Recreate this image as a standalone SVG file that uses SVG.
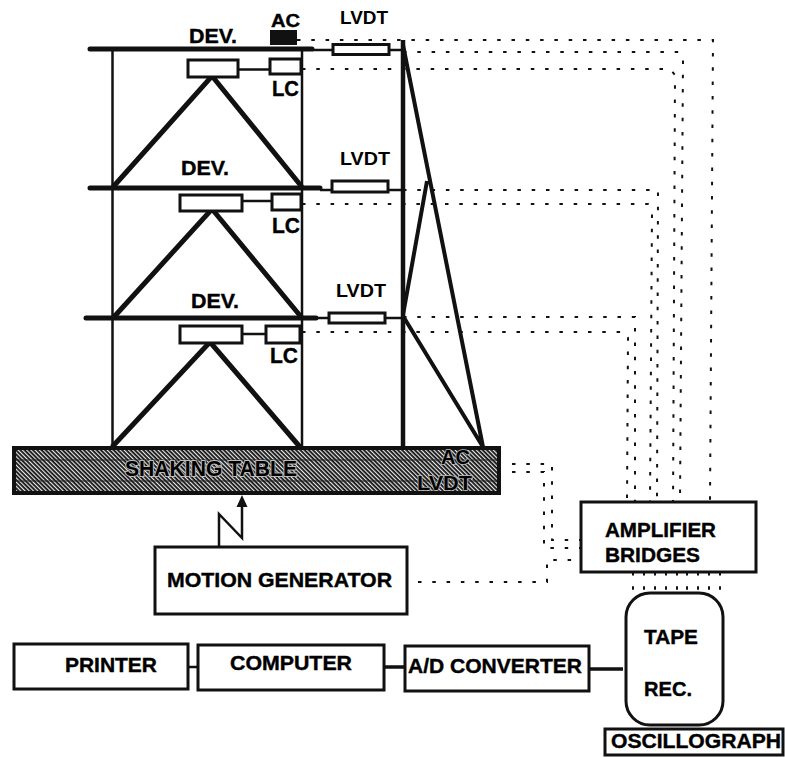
<svg xmlns="http://www.w3.org/2000/svg" width="785" height="758" viewBox="0 0 785 758">
<style>
text{font-family:"Liberation Sans",Arial,sans-serif;font-weight:bold;font-size:21px;fill:#000;stroke:#000;stroke-width:.4}
.box{fill:#fff;stroke:#111;stroke-width:3}
.thin{fill:none;stroke:#111;stroke-width:2.500}
.beam{fill:none;stroke:#111;stroke-width:5;stroke-linecap:round}
.brace{fill:none;stroke:#111;stroke-width:5}
.dot{fill:none;stroke:#111;stroke-width:2;stroke-dasharray:3.500 10.800}
.tbl{font-size:22px;stroke:#bbb;stroke-width:2;paint-order:stroke}
.tbl2{font-size:20px;stroke:#bbb;stroke-width:1.500;paint-order:stroke}
.lc{font-size:22px}
.lv{font-size:19px}
</style>
<defs>
<pattern id="hatch" width="3" height="3" patternUnits="userSpaceOnUse" patternTransform="rotate(45)">
<rect width="3" height="3" fill="#e8e8e8"/><rect width="3" height="1.800" fill="#111"/>
</pattern>
</defs>
<rect width="785" height="758" fill="#fff"/>
<g id="connectors">
<path class="dot" d="M297 40H713L710 502"/>
<path class="dot" d="M403 52H680L683 60L680 502"/>
<path class="dot" d="M302 69H670L675 75L673 510"/>
<path class="dot" d="M403 190H658L657 502"/>
<path class="dot" d="M302 204H648L652 212L650 502"/>
<path class="dot" d="M403 317H635L635 510"/>
<path class="dot" d="M302 332H625L628 338L627 502"/>
<path class="dot" d="M512 464H552V540H597"/>
<path class="dot" d="M512 472H544V548H590"/>
<path class="dot" d="M418 582H547V560H581"/>
<path class="dot" d="M633 572V592M644 572V592M655 572V592M666 572V592M677 572V592M687 572V592M698 572V592M709 572V592M720 572V592"/>
<path class="thin" d="M112.500 49V447M302 49V447"/>
<path class="beam" d="M90 49H312M90 188H320M86 318H316"/>
<path class="thin" d="M312 50H333M389 50H403M320 190H333M388 190H403M316 318H329M385 318H403"/>
<path class="thin" d="M238 69.500H270M242 201H272M242 334H267"/>
<path class="brace" d="M113 187L212 76L302 187M113 318L212 209L302 318M112 447L210 342L300 447"/>
<path fill="none" stroke="#111" stroke-width="4.500" d="M403 40V447"/>
<path fill="none" stroke="#111" stroke-width="4" d="M403 45L483 447M403 315L427 181M403 316L483 447"/>
<path fill="none" stroke="#111" stroke-width="2.500" d="M219 547V514L242 538V503"/>
<path fill="#111" d="M242 495L247.500 507H236.500Z"/>
<path class="thin" d="M188 667H198"/>
<path fill="none" stroke="#111" stroke-width="3.500" d="M384 667H405M589 669H623"/>
</g>
<g id="shaking-table">
<rect x="14" y="448" width="485" height="45" fill="url(#hatch)" stroke="#111" stroke-width="4"/>
<path fill="none" stroke="#222" stroke-width="1" d="M16 460H497M16 481H497"/>
<text class="tbl" x="125" y="476" textLength="172" lengthAdjust="spacingAndGlyphs">SHAKING TABLE</text>
<text class="tbl2" x="441" y="464" textLength="29" lengthAdjust="spacingAndGlyphs">AC</text>
<text class="tbl2" x="417" y="490" textLength="55" lengthAdjust="spacingAndGlyphs">LVDT</text>
</g>
<g id="dev-1"><rect class="box" x="188" y="60" width="50" height="17"/><text x="189" y="43" textLength="48" lengthAdjust="spacingAndGlyphs">DEV.</text></g>
<g id="ac-top"><rect x="270" y="30" width="27" height="15" fill="#111"/><text class="lv" x="271" y="27" textLength="29" lengthAdjust="spacingAndGlyphs">AC</text></g>
<g id="lc-1"><rect class="box" x="270" y="59" width="31" height="15"/><text class="lc" x="272" y="96" textLength="27" lengthAdjust="spacingAndGlyphs">LC</text></g>
<g id="lvdt-1"><rect class="box" x="333" y="44.500" width="56" height="10"/><text class="lv" x="340" y="24" textLength="48" lengthAdjust="spacingAndGlyphs" style="stroke-width:0">LVDT</text></g>
<g id="dev-2"><rect class="box" x="180" y="195" width="62" height="16"/><text x="181" y="175" textLength="48" lengthAdjust="spacingAndGlyphs">DEV.</text></g>
<g id="lc-2"><rect class="box" x="272" y="194" width="29" height="16"/><text class="lc" x="272" y="233" textLength="28" lengthAdjust="spacingAndGlyphs">LC</text></g>
<g id="lvdt-2"><rect class="box" x="332" y="181" width="56" height="11"/><text class="lv" x="340" y="165" textLength="50" lengthAdjust="spacingAndGlyphs" style="stroke-width:0">LVDT</text></g>
<g id="dev-3"><rect class="box" x="180" y="326" width="62" height="17"/><text x="191" y="308" textLength="48" lengthAdjust="spacingAndGlyphs">DEV.</text></g>
<g id="lc-3"><rect class="box" x="266" y="326" width="34" height="17"/><text class="lc" x="270" y="363" textLength="28" lengthAdjust="spacingAndGlyphs">LC</text></g>
<g id="lvdt-3"><rect class="box" x="329" y="313" width="56" height="10"/><text class="lv" x="336" y="297" textLength="50" lengthAdjust="spacingAndGlyphs" style="stroke-width:0">LVDT</text></g>
<g id="motion-generator"><rect class="box" x="155" y="547" width="252" height="67"/><text x="167" y="587" textLength="225" lengthAdjust="spacingAndGlyphs">MOTION GENERATOR</text></g>
<g id="amplifier-bridges"><rect class="box" x="581" y="502" width="175" height="70"/><text x="605" y="537" textLength="111" lengthAdjust="spacingAndGlyphs">AMPLIFIER</text><text x="605" y="562" textLength="95" lengthAdjust="spacingAndGlyphs">BRIDGES</text></g>
<g id="printer"><rect class="box" x="14" y="644" width="174" height="45"/><text x="65" y="672" textLength="92" lengthAdjust="spacingAndGlyphs">PRINTER</text></g>
<g id="computer"><rect class="box" x="198" y="645" width="186" height="45"/><text x="230" y="670" textLength="122" lengthAdjust="spacingAndGlyphs">COMPUTER</text></g>
<g id="ad-converter"><rect class="box" x="405" y="646" width="184" height="45"/><text x="408" y="673" textLength="174" lengthAdjust="spacingAndGlyphs">A/D CONVERTER</text></g>
<g id="tape-rec"><rect class="box" x="626" y="593" width="97" height="132" rx="24"/><text x="644" y="644" textLength="54" lengthAdjust="spacingAndGlyphs">TAPE</text><text x="644" y="696" textLength="48" lengthAdjust="spacingAndGlyphs">REC.</text></g>
<g id="oscillograph"><rect class="box" x="605" y="729" width="178" height="26"/><text x="611" y="748" textLength="170" lengthAdjust="spacingAndGlyphs">OSCILLOGRAPH</text></g>
</svg>
